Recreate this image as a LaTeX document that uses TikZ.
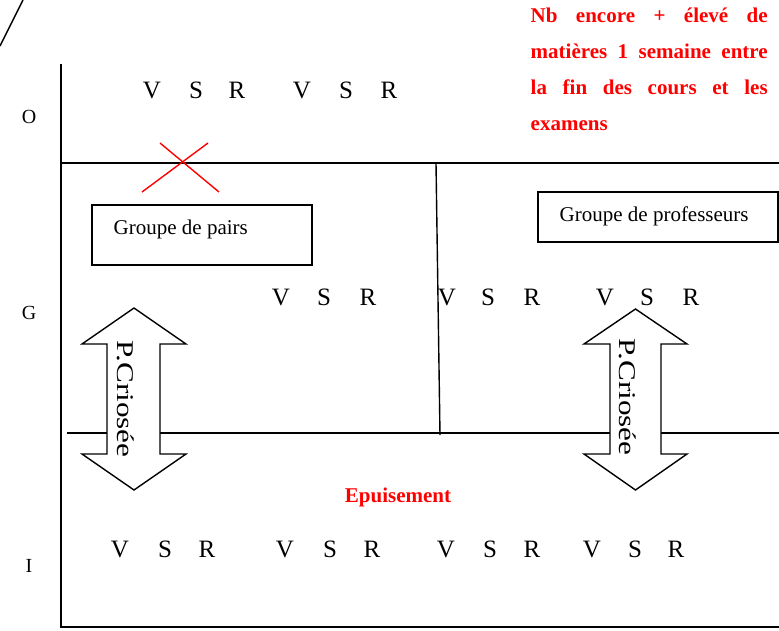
\documentclass[tikz,border=0pt]{standalone}
\usepackage{fontspec}
\setmainfont{Liberation Serif}
\begin{document}
\begin{tikzpicture}[x=1pt,y=-1pt,line width=1.4pt,
  lbl/.style={font=\fontsize{25}{30}\selectfont,anchor=base,inner sep=0pt},
  axl/.style={font=\fontsize{20}{24}\selectfont,inner sep=0pt},
  grp/.style={font=\fontsize{21}{25}\selectfont,anchor=west,inner sep=0pt},
  redt/.style={text=red,font=\fontsize{21}{25}\selectfont\bfseries,inner sep=0pt,anchor=base west},
  dbl/.style={draw=black,fill=white,line width=1.4pt},
  crs/.style={font=\fontsize{24}{28}\selectfont,rotate=-90,inner sep=0pt},
  boxr/.style={draw=black,line width=1.4pt}]
\useasboundingbox (0,0) rectangle (779,630);

% diagonal stroke at top-left
\coordinate (d1) at (0,46);
\coordinate (d2) at (23,0);
\draw (d1) -- (d2);

% axes and grid
\coordinate (a0) at (61,64);
\coordinate (a1) at (61,627);
\coordinate (a2) at (779,627);
\draw (a0) -- (a1) -- (a2);
\coordinate (h1a) at (61,163);
\coordinate (h1b) at (779,163);
\draw (h1a) -- (h1b);
\coordinate (va) at (436,163);
\coordinate (vb) at (440,435);
\draw (va) -- (vb);
\coordinate (h2a) at (67,433);
\coordinate (h2b) at (779,433);
\draw (h2a) -- (h2b);

% red cross
\coordinate (x1) at (142,192);
\coordinate (x2) at (208,143);
\coordinate (x3) at (160,143);
\coordinate (x4) at (219,192);
\draw[red] (x1) -- (x2);
\draw[red] (x3) -- (x4);

% axis labels
\node[axl] (lO) at (29,117) {O};
\node[axl] (lG) at (29,313) {G};
\node[axl] (lI) at (29,566) {I};

% red text
\node[redt] (r1) at (530,22) {\makebox[237pt][s]{Nb encore + élevé de}};
\node[redt] (r2) at (530,58) {\makebox[237pt][s]{matières 1 semaine entre}};
\node[redt] (r3) at (530,94) {\makebox[237pt][s]{la fin des cours et les}};
\node[redt] (r4) at (530,130) {examens};

% boxes
\draw[boxr] (92,205) rectangle (312,265);
\node[grp] (gp) at (113,229) {Groupe de pairs};
\draw[boxr] (538,192) rectangle (778,242);
\node[grp] (gf) at (559,216) {Groupe de professeurs};

% V S R rows
\node[lbl] (t1) at (152,98) {V};
\node[lbl] (t2) at (196,98) {S};
\node[lbl] (t3) at (237,98) {R};
\node[lbl] (t4) at (302,98) {V};
\node[lbl] (t5) at (346,98) {S};
\node[lbl] (t6) at (389,98) {R};

\node[lbl] (m1) at (281,305) {V};
\node[lbl] (m2) at (324,305) {S};
\node[lbl] (m3) at (368,305) {R};
\node[lbl] (m4) at (447,305) {V};
\node[lbl] (m5) at (488,305) {S};
\node[lbl] (m6) at (532,305) {R};
\node[lbl] (m7) at (605,305) {V};
\node[lbl] (m8) at (647,305) {S};
\node[lbl] (m9) at (691,305) {R};

\node[lbl] (b1) at (120,557) {V};
\node[lbl] (b2) at (165,557) {S};
\node[lbl] (b3) at (207,557) {R};
\node[lbl] (b4) at (285,557) {V};
\node[lbl] (b5) at (330,557) {S};
\node[lbl] (b6) at (372,557) {R};
\node[lbl] (b7) at (446,557) {V};
\node[lbl] (b8) at (490,557) {S};
\node[lbl] (b9) at (532,557) {R};
\node[lbl] (b10) at (592,557) {V};
\node[lbl] (b11) at (635,557) {S};
\node[lbl] (b12) at (676,557) {R};

% Epuisement
\node[text=red,font=\fontsize{21}{25}\selectfont\bfseries,inner sep=0pt] (ep) at (398,497) {Epuisement};

% double arrows
\draw[dbl] (134,308) -- (186,344) -- (160,344) -- (160,454) -- (186,454) -- (134,490)
  -- (82,454) -- (107,454) -- (107,344) -- (82,344) -- cycle;
\node[crs] (pc1) at (126,399) {\scalebox{1.3}[1]{P.Criosée}};

\draw[dbl] (635.5,309) -- (687,344) -- (661,344) -- (661,454) -- (687,454) -- (635.5,490)
  -- (584,454) -- (610,454) -- (610,344) -- (584,344) -- cycle;
\node[crs] (pc2) at (628,397) {\scalebox{1.3}[1]{P.Criosée}};
\end{tikzpicture}
\end{document}
